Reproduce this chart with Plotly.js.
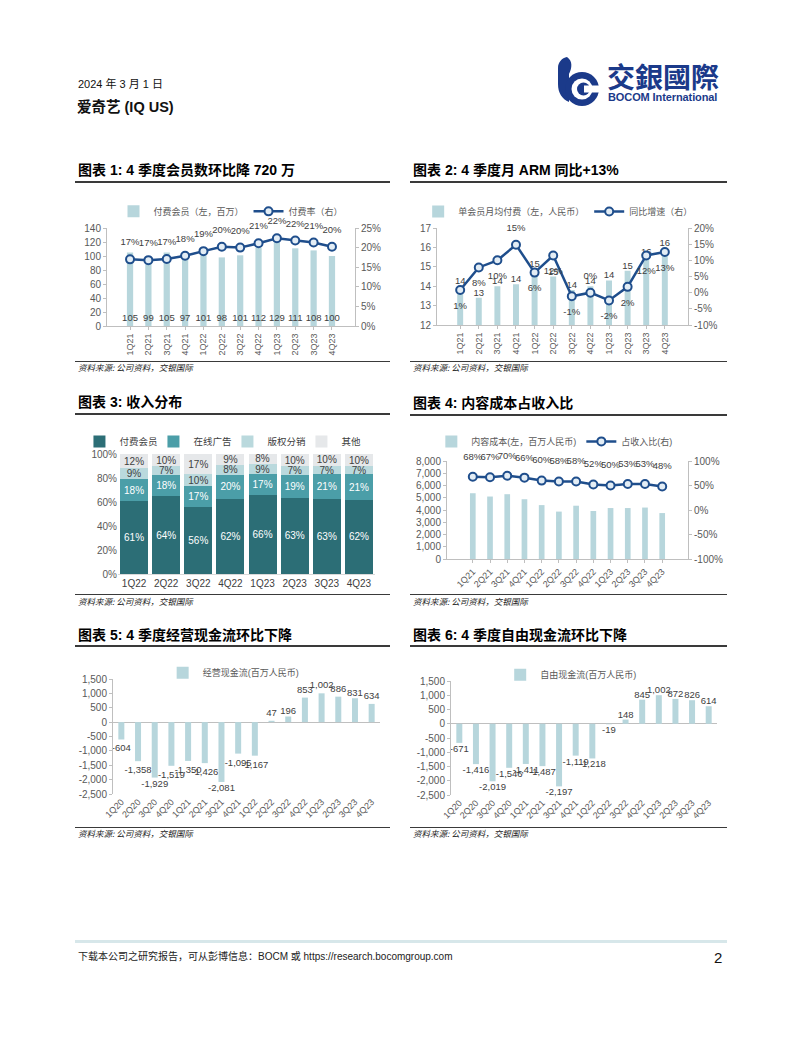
<!DOCTYPE html>
<html><head><meta charset="utf-8">
<script src="https://cdn.plot.ly/plotly-3.0.1.min.js"></script>
<style>
body{margin:0;width:802px;height:1037px;position:relative;background:#fff;overflow:hidden;font-family:"Liberation Sans","Noto Sans CJK SC",sans-serif}
.t{position:absolute;white-space:nowrap;line-height:1}
.title{position:absolute;white-space:nowrap;font-weight:bold;font-size:14px;color:#000;line-height:1;font-family:"Liberation Sans","Noto Sans CJK SC",sans-serif}
.rule{position:absolute;height:2px;background:#3a3a3a}
.srcline{position:absolute;height:1px;background:#3a3a3a}
.src{position:absolute;white-space:nowrap;font-size:8.5px;font-style:italic;color:#222;line-height:1;font-family:"Noto Sans CJK SC",sans-serif}
.plot{position:absolute}
</style></head><body>

<!-- header -->
<div class="t" style="left:78px;top:79px;font-size:11px;color:#111;font-family:'Liberation Sans','Noto Sans CJK SC'">2024 年 3 月 1 日</div>
<div class="t" style="left:77px;top:100px;font-size:14.5px;font-weight:bold;color:#111;font-family:'Liberation Sans','Noto Sans CJK SC'">爱奇艺 (IQ US)</div>
<svg class="plot" style="left:554px;top:56px" width="50" height="52" viewBox="0 0 50 52">
  <path d="M13,1 C19,5 18,12 15,18 L15,46 C8,43 4,37 4,28 L4,12 C4,6 8,2 13,1 Z" fill="#1b3a8a"/>
  <circle cx="28" cy="33" r="17" fill="#1b3a8a"/>
  <circle cx="28" cy="33" r="10.5" fill="#fff"/>
  <circle cx="29.5" cy="33" r="6.5" fill="#1b3a8a"/>
  <rect x="30" y="29.5" width="20" height="7" fill="#fff"/>
</svg>
<div class="t" style="left:607px;top:62px;font-size:28px;font-weight:bold;color:#1b3a8a;font-family:'Noto Sans CJK TC'">交銀國際</div>
<div class="t" style="left:608px;top:92px;font-size:11px;font-weight:bold;color:#1b3a8a;letter-spacing:-0.1px">BOCOM International</div>

<!-- section titles -->
<div class="title" style="left:78px;top:163px">图表 1: 4 季度会员数环比降 720 万</div>
<div class="rule" style="left:75px;top:181px;width:315px"></div>
<div class="title" style="left:413px;top:163px">图表 2: 4 季度月 ARM 同比+13%</div>
<div class="rule" style="left:410px;top:181px;width:317px"></div>
<div class="srcline" style="left:75px;top:361px;width:315px"></div>
<div class="src" style="left:78px;top:363px">资料来源: 公司资料，交银国际</div>
<div class="srcline" style="left:410px;top:361px;width:317px"></div>
<div class="src" style="left:413px;top:363px">资料来源: 公司资料，交银国际</div>

<div class="title" style="left:78px;top:395px">图表 3: 收入分布</div>
<div class="rule" style="left:75px;top:413px;width:315px"></div>
<div class="title" style="left:413px;top:396px">图表 4: 内容成本占收入比</div>
<div class="rule" style="left:410px;top:414px;width:317px"></div>
<div class="srcline" style="left:75px;top:594px;width:315px"></div>
<div class="src" style="left:78px;top:597px">资料来源: 公司资料，交银国际</div>
<div class="srcline" style="left:410px;top:594px;width:317px"></div>
<div class="src" style="left:413px;top:597px">资料来源: 公司资料，交银国际</div>

<div class="title" style="left:78px;top:628px">图表 5: 4 季度经营现金流环比下降</div>
<div class="rule" style="left:75px;top:645px;width:315px"></div>
<div class="title" style="left:413px;top:628px">图表 6: 4 季度自由现金流环比下降</div>
<div class="rule" style="left:410px;top:645px;width:317px"></div>
<div class="srcline" style="left:75px;top:827px;width:315px"></div>
<div class="src" style="left:78px;top:829px">资料来源: 公司资料，交银国际</div>
<div class="srcline" style="left:410px;top:827px;width:317px"></div>
<div class="src" style="left:413px;top:829px">资料来源: 公司资料，交银国际</div>

<!-- footer -->
<div style="position:absolute;left:75px;top:940px;width:652px;height:3px;background:#d7e7ea"></div>
<div class="t" style="left:78px;top:952px;font-size:10px;color:#222;font-family:'Liberation Sans','Noto Sans CJK SC'">下载本公司之研究报告，可从彭博信息：BOCM 或 https://research.bocomgroup.com</div>
<div class="t" style="left:714px;top:950px;font-size:15px;color:#111">2</div>

<div id="c1" class="plot" style="left:75px;top:185px;width:315px;height:175px"></div>
<div id="c2" class="plot" style="left:395px;top:185px;width:335px;height:175px"></div>
<div id="c3" class="plot" style="left:68px;top:415px;width:322px;height:178px"></div>
<div id="c4" class="plot" style="left:400px;top:415px;width:330px;height:178px"></div>
<div id="c5" class="plot" style="left:75px;top:648px;width:315px;height:178px"></div>
<div id="c6" class="plot" style="left:410px;top:648px;width:320px;height:178px"></div>

<script>
// ---------------- DATA ----------------
const quarters21to23 = ['1Q21','2Q21','3Q21','4Q21','1Q22','2Q22','3Q22','4Q22','1Q23','2Q23','3Q23','4Q23'];
const quarters22to23 = ['1Q22','2Q22','3Q22','4Q22','1Q23','2Q23','3Q23','4Q23'];
const quarters20to23 = ['1Q20','2Q20','3Q20','4Q20','1Q21','2Q21','3Q21','4Q21','1Q22','2Q22','3Q22','4Q22','1Q23','2Q23','3Q23','4Q23'];

// Chart 1
const paidMembers = [105, 99, 105, 97, 101, 98, 101, 112, 129, 111, 108, 100];
const paidRatio = [17.0, 16.8, 17.1, 17.9, 19.1, 20.2, 20.0, 21.1, 22.4, 21.8, 21.3, 20.2];
// Chart 2
const monthlyArm = [14.0, 13.4, 14.0, 14.1, 14.9, 14.5, 13.8, 14.0, 14.3, 14.8, 15.5, 15.95];
const armYoy = [0.8, 7.8, 10.0, 14.8, 6.2, 11.5, -1.1, 0.0, -2.4, 1.8, 11.5, 12.6];
// Chart 3
const revMembership = [61, 64, 56, 62, 66, 63, 63, 62];
const revAds = [18, 18, 17, 20, 17, 19, 21, 21];
const revLicensing = [9, 7, 10, 8, 9, 7, 7, 7];
const revOthers = [12, 10, 17, 9, 8, 10, 10, 10];
// Chart 4
const contentCost = [5370, 5100, 5290, 4880, 4400, 3870, 4350, 3920, 4160, 4160, 4200, 3750];
const contentRatio = [68, 67, 70, 66, 60, 58, 58, 52, 50, 53, 53, 48];
// Chart 5
const operatingCF = [-604, -1358, -1929, -1519, -1350, -1426, -2081, -1095, -1167, 47, 196, 853, 1002, 886, 831, 634];
// Chart 6
const freeCF = [-671, -1416, -2019, -1546, -1411, -1487, -2197, -1119, -1218, -19, 148, 845, 1002, 872, 826, 614];

// tick labels
const cfTickVals = [-2500, -2000, -1500, -1000, -500, 0, 500, 1000, 1500];
const cfTickText = ['-2,500', '-2,000', '-1,500', '-1,000', '-500', '0', '500', '1,000', '1,500'];
const yoyTickVals = [-10, -5, 0, 5, 10, 15, 20];
const yoyTickText = ['-10%', '-5%', '0%', '5%', '10%', '15%', '20%'];
const ratioTickVals = [-100, -50, 0, 50, 100];
const ratioTickText = ['-100%', '-50%', '0%', '50%', '100%'];

// ---------------- STYLE ----------------
const FONT = '"Liberation Sans","Noto Sans CJK SC",sans-serif';
const TXT = '#404040';
const TICK = '#595959';
const AXL = '#bfbfbf';
const BAR = '#b7d6dc';
const LINE = '#1f4e8c';
const LBL = 9.5;
const cfg = {staticPlot: true, displayModeBar: false};
const fmt = v => v.toLocaleString('en-US');
const pct = v => Math.round(v) + '%';

function baseLayout(w, h, m) {
  return {
    width: w, height: h, margin: m,
    paper_bgcolor: 'rgba(0,0,0,0)', plot_bgcolor: 'rgba(0,0,0,0)',
    font: {family: FONT, size: 10, color: TXT},
    showlegend: true,
  };
}
const yAx = o => Object.assign({showgrid: false, zeroline: false, showline: true, linecolor: AXL, linewidth: 1,
  ticks: 'outside', ticklen: 3, tickcolor: AXL, tickfont: {size: 10, color: TICK}}, o);
const xCat = o => Object.assign({type: 'category', showgrid: false, zeroline: false, showline: true, linecolor: AXL,
  ticks: 'outside', ticklen: 3, tickcolor: AXL, tickfont: {size: 9, color: TICK}}, o);
const lineMarker = {size: 8, color: '#e3edf5', line: {color: LINE, width: 2}};
// invisible spacer markers so the point labels sit clear of the visible markers
const labelSpacer = {size: 17, opacity: 0};

// ---------------- CHART 1 ----------------
Plotly.newPlot('c1', [
  {type: 'bar', x: quarters21to23, y: paidMembers, name: '付费会员（左，百万）', marker: {color: BAR},
   text: paidMembers.map(String), textposition: 'inside', insidetextanchor: 'start', textangle: 0,
   constraintext: 'none', textfont: {size: LBL, color: TXT}, cliponaxis: false},
  {type: 'scatter', mode: 'lines+markers', x: quarters21to23, y: paidRatio, yaxis: 'y2', name: '付费率（右）',
   line: {color: LINE, width: 2.5}, marker: lineMarker},
  {type: 'scatter', mode: 'markers+text', x: quarters21to23, y: paidRatio, yaxis: 'y2', showlegend: false,
   marker: labelSpacer, text: paidRatio.map(pct), textposition: 'top center',
   textfont: {size: LBL, color: TXT}, cliponaxis: false}
], Object.assign(baseLayout(315, 175, {l: 32, r: 35, t: 28, b: 34}), {
  bargap: 0.66,
  legend: {orientation: 'h', x: 0.5, xanchor: 'center', y: 1.17, yanchor: 'middle', font: {size: 9, color: TICK}},
  xaxis: xCat({tickangle: -90}),
  yaxis: yAx({range: [0, 140], dtick: 20}),
  yaxis2: yAx({range: [0, 25], dtick: 5, ticksuffix: '%', overlaying: 'y', side: 'right'})
}), cfg);

// ---------------- CHART 2 ----------------
const yoyPos = ['bottom center','bottom center','bottom center','top center','bottom center','bottom center',
  'bottom center','top center','bottom center','bottom center','bottom center','bottom center'];
Plotly.newPlot('c2', [
  {type: 'bar', x: quarters21to23, y: monthlyArm, name: '单会员月均付费（左，人民币）', marker: {color: BAR},
   text: monthlyArm.map(v => String(Math.round(v))), textposition: 'outside', textangle: 0, constraintext: 'none',
   textfont: {size: LBL, color: TXT}, cliponaxis: false},
  {type: 'scatter', mode: 'lines+markers', x: quarters21to23, y: armYoy, yaxis: 'y2', name: '同比增速（右）',
   line: {color: LINE, width: 2.5}, marker: lineMarker},
  {type: 'scatter', mode: 'markers+text', x: quarters21to23, y: armYoy, yaxis: 'y2', showlegend: false,
   marker: labelSpacer, text: armYoy.map(pct), textposition: yoyPos,
   textfont: {size: LBL, color: TXT}, cliponaxis: false}
], Object.assign(baseLayout(335, 175, {l: 42, r: 42, t: 27, b: 35}), {
  bargap: 0.68,
  legend: {orientation: 'h', x: -0.075, xanchor: 'left', y: 1.17, yanchor: 'middle', font: {size: 9, color: TICK}},
  xaxis: xCat({tickangle: -90}),
  yaxis: yAx({range: [12, 17], dtick: 1}),
  yaxis2: yAx({range: [-10, 20], tickvals: yoyTickVals, ticktext: yoyTickText, overlaying: 'y', side: 'right'})
}), cfg);

// ---------------- CHART 3 ----------------
const stackSeries = [
  {name: '付费会员', y: revMembership, color: '#2c6e76', tc: '#ffffff'},
  {name: '在线广告', y: revAds, color: '#4b9ea8', tc: '#ffffff'},
  {name: '版权分销', y: revLicensing, color: '#bad9dd', tc: TXT},
  {name: '其他', y: revOthers, color: '#e6e8ea', tc: TXT}
];
Plotly.newPlot('c3', stackSeries.map(s => ({
  type: 'bar', x: quarters22to23, y: s.y, name: s.name, marker: {color: s.color},
  text: s.y.map(v => v + '%'), textposition: 'inside', insidetextanchor: 'middle', textangle: 0,
  constraintext: 'none', textfont: {size: 10, color: s.tc}, hoverinfo: 'none'
})), Object.assign(baseLayout(322, 178, {l: 47, r: 15, t: 24, b: 19}), {
  barmode: 'stack', barnorm: 'percent', bargap: 0.13,
  legend: {orientation: 'h', traceorder: 'normal', x: -0.15, xanchor: 'left', y: 1.105, yanchor: 'middle',
    entrywidth: 29, font: {size: 9.5, color: TXT}},
  xaxis: xCat({showline: true, linecolor: '#d9d9d9', ticks: '', tickfont: {size: 10, color: TXT}}),
  yaxis: {range: [0, 100], dtick: 20, ticksuffix: '%', showgrid: false, zeroline: false, showline: false,
    tickfont: {size: 10, color: TICK}}
}), cfg);

// ---------------- CHART 4 ----------------
Plotly.newPlot('c4', [
  {type: 'bar', x: quarters21to23, y: contentCost, name: '内容成本(左，百万人民币)', marker: {color: BAR}},
  {type: 'scatter', mode: 'lines+markers', x: quarters21to23, y: contentRatio, yaxis: 'y2', name: '占收入比(右)',
   line: {color: LINE, width: 2.5}, marker: lineMarker},
  {type: 'scatter', mode: 'markers+text', x: quarters21to23, y: contentRatio, yaxis: 'y2', showlegend: false,
   marker: {size: 22, opacity: 0}, text: contentRatio.map(pct), textposition: 'top center',
   textfont: {size: LBL, color: TXT}, cliponaxis: false}
], Object.assign(baseLayout(330, 178, {l: 47, r: 42, t: 34, b: 34}), {
  bargap: 0.67,
  legend: {orientation: 'h', x: -0.065, xanchor: 'left', y: 1.2, yanchor: 'middle', font: {size: 9, color: TICK}},
  xaxis: xCat({tickangle: -45}),
  yaxis: yAx({range: [0, 8000], dtick: 1000, tickformat: ',d'}),
  yaxis2: yAx({range: [-100, 100], tickvals: ratioTickVals, ticktext: ratioTickText, overlaying: 'y', side: 'right'})
}), cfg);

// ---------------- CHART 5 & 6 ----------------
function cfChart(id, vals, name, w, m, legx) {
  Plotly.newPlot(id, [
    {type: 'bar', x: quarters20to23, y: vals, name: name, marker: {color: BAR},
     text: vals.map(fmt), textposition: 'outside', textangle: 0, constraintext: 'none',
     textfont: {size: LBL, color: TXT}, cliponaxis: false}
  ], Object.assign(baseLayout(w, 178, m), {
    bargap: 0.64,
    legend: {orientation: 'h', x: legx, xanchor: 'center', y: 1.055, yanchor: 'middle', font: {size: 9, color: TICK}},
    xaxis: xCat({tickangle: -45, showline: false, ticks: ''}),
    yaxis: yAx({range: [-2500, 1500], tickvals: cfTickVals, ticktext: cfTickText, zeroline: true,
      zerolinecolor: '#bfbfbf', zerolinewidth: 1})
  }), cfg);
}
cfChart('c5', operatingCF, '经营现金流(百万人民币)', 315, {l: 38, r: 10, t: 17, b: 32}, 0.45);
cfChart('c6', freeCF, '自由现金流(百万人民币)', 320, {l: 41, r: 13, t: 19, b: 31}, 0.45);
</script>
</body></html>
